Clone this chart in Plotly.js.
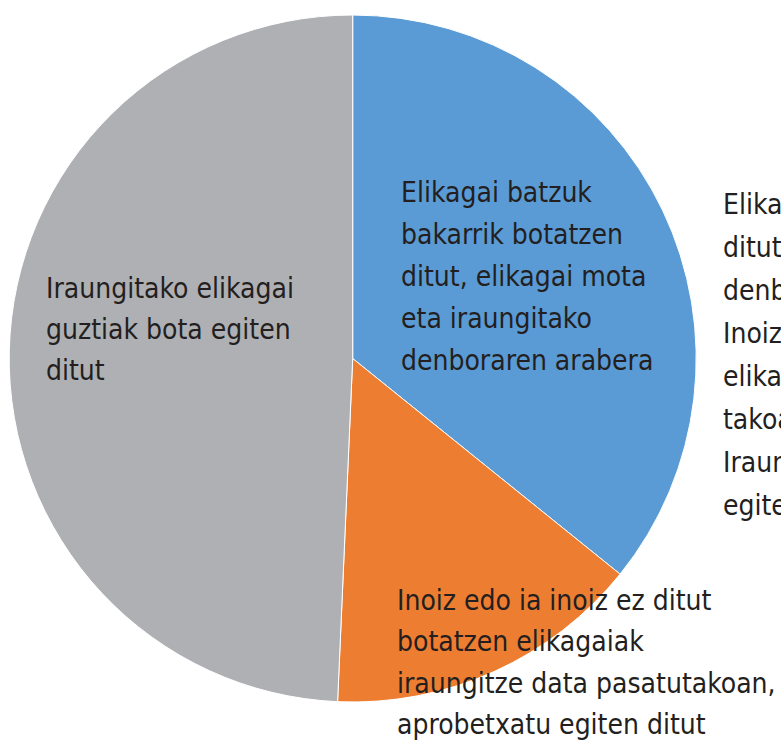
<!DOCTYPE html>
<html>
<head>
<meta charset="utf-8">
<script src="https://cdn.plot.ly/plotly-3.0.1.min.js"></script>
<style>html,body{margin:0;padding:0;background:#fff;overflow:hidden}#chart{width:781px;height:740px}</style>
</head>
<body>
<div id="chart"></div>
<script>
// Data
var categories = [
  "Elikagai batzuk bakarrik botatzen ditut, elikagai mota eta iraungitako denboraren arabera",
  "Inoiz edo ia inoiz ez ditut botatzen elikagaiak iraungitze data pasatutakoan, aprobetxatu egiten ditut",
  "Iraungitako elikagai guztiak bota egiten ditut"
];
var values = [35.8, 14.9, 49.3];
var colors = ["#5b9bd5", "#ed7d31", "#afb0b4"];

// slice label lines
var sliceLabelLines = [
  ["Elikagai batzuk", "bakarrik botatzen", "ditut, elikagai mota", "eta iraungitako", "denboraren arabera"],
  ["Inoiz edo ia inoiz ez ditut", "botatzen elikagaiak", "iraungitze data pasatutakoan,", "aprobetxatu egiten ditut"],
  ["Iraungitako elikagai", "guztiak bota egiten", "ditut"]
];
// legend text lines (legend is cut off at the right edge)
var legendLines = [
  "Elikagai batzuk bakarrik botatzen",
  "ditut, elikagai mota eta iraungitako",
  "denboraren arabera",
  "Inoiz edo ia inoiz ez ditut botatzen",
  "elikagaiak iraungitze data pasatu-",
  "takoan, aprobetxatu egiten ditut",
  "Iraungitako elikagai guztiak bota",
  "egiten ditut"
];

var W = 781, H = 740;
var FONT = "'DejaVu Sans Condensed', 'Liberation Sans Narrow', Arial, sans-serif";
var fontSize = 28;
var textColor = "#231f20";

// label block positions (pixels: left x, first line center y, spacing)
var labelPos = [
  {x: 399, y: 192, dy: 42},
  {x: 395, y: 600, dy: 41.5},
  {x: 44, y: 288, dy: 41}
];
var legendPos = {x: 721, y: 205, dy: 42.9};

var annotations = [];
function addLine(txt, px, py) {
  annotations.push({
    text: txt, xref: "paper", yref: "paper",
    x: px / W, y: 1 - py / H, xanchor: "left", yanchor: "middle",
    showarrow: false, align: "left",
    font: {family: FONT, size: fontSize, color: textColor}
  });
}
sliceLabelLines.forEach(function (lines, k) {
  lines.forEach(function (t, i) { addLine(t, labelPos[k].x, labelPos[k].y + i * labelPos[k].dy); });
});
legendLines.forEach(function (t, i) { addLine(t, legendPos.x, legendPos.y + i * legendPos.dy); });

var trace = {
  type: "pie",
  labels: categories,
  values: values,
  sort: false,
  direction: "clockwise",
  rotation: 0,
  textinfo: "none",
  hoverinfo: "none",
  showlegend: false,
  marker: {colors: colors, line: {color: "#ffffff", width: 1}},
  domain: {x: [9.2 / W, 696.2 / W], y: [1 - 702 / H, 1 - 15 / H]}
};

var layout = {
  width: W, height: H,
  margin: {l: 0, r: 0, t: 0, b: 0},
  paper_bgcolor: "#ffffff",
  plot_bgcolor: "#ffffff",
  showlegend: false,
  annotations: annotations
};

Plotly.newPlot("chart", [trace], layout, {displayModeBar: false, staticPlot: true});
</script>
</body>
</html>
